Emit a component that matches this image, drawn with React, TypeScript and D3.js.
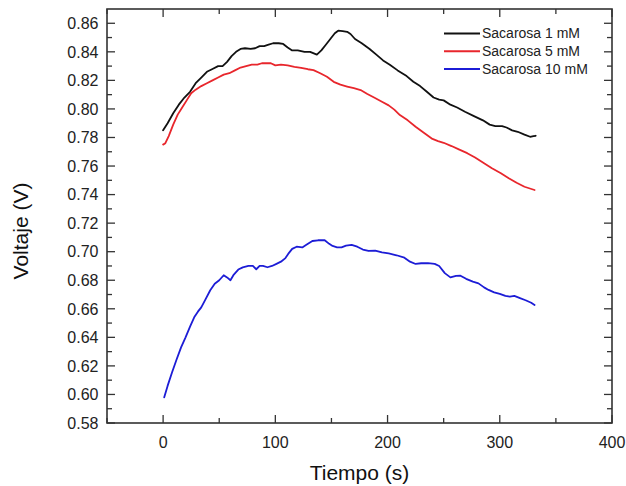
import React from "react";
import * as d3 from "d3";

// Voltage (V) versus time (s) for three sucrose concentrations
const series1mM: [number, number][] = [
  [0, 0.785], [4, 0.79], [9, 0.797], [14, 0.803], [19, 0.808], [24, 0.812], [29, 0.818], [34, 0.822], [39, 0.826], [44, 0.828],
  [49, 0.83], [53, 0.83], [57, 0.833], [61, 0.837], [65, 0.84], [69, 0.842], [73, 0.8425], [78, 0.842], [82, 0.8425], [86, 0.844],
  [90, 0.844], [94, 0.845], [98, 0.846], [103, 0.846], [107, 0.8455], [111, 0.843], [115, 0.841], [120, 0.841], [126, 0.84], [131, 0.84],
  [137, 0.838], [141, 0.841], [145, 0.845], [149, 0.849], [153, 0.853], [156, 0.8548], [160, 0.8545], [164, 0.854], [167, 0.8525], [171, 0.849],
  [177, 0.846], [184, 0.842], [190, 0.838], [196, 0.834], [202, 0.831], [209, 0.827], [217, 0.823], [223, 0.819], [229, 0.816], [235, 0.812],
  [241, 0.808], [246, 0.8065], [250, 0.806], [256, 0.803], [262, 0.801], [269, 0.798], [277, 0.795], [285, 0.792], [291, 0.789], [296, 0.788],
  [302, 0.788], [306, 0.787], [311, 0.785], [316, 0.784], [322, 0.782], [327, 0.7805], [330, 0.781], [332, 0.7812],
];

const series5mM: [number, number][] = [
  [0, 0.775], [2, 0.776], [5, 0.781], [9, 0.789], [13, 0.796], [17, 0.801], [21, 0.806], [25, 0.811], [29, 0.8135], [34, 0.816],
  [39, 0.818], [44, 0.82], [49, 0.822], [54, 0.824], [59, 0.825], [64, 0.827], [69, 0.829], [74, 0.83], [79, 0.831], [84, 0.831],
  [88, 0.832], [93, 0.832], [96, 0.832], [100, 0.8305], [105, 0.831], [111, 0.8305], [117, 0.8295], [123, 0.8288], [129, 0.8278], [134, 0.8272],
  [140, 0.825], [146, 0.8225], [152, 0.819], [158, 0.817], [164, 0.8157], [170, 0.8145], [176, 0.8132], [182, 0.8105], [188, 0.808], [195, 0.805],
  [201, 0.8025], [206, 0.7995], [211, 0.7957], [218, 0.792], [225, 0.7875], [232, 0.7835], [240, 0.779], [245, 0.7775], [250, 0.7763], [257, 0.774],
  [264, 0.7715], [271, 0.769], [278, 0.766], [286, 0.762], [293, 0.7585], [301, 0.755], [308, 0.7515], [315, 0.7483], [322, 0.7455], [331, 0.7432],
];

const series10mM: [number, number][] = [
  [1, 0.598], [4, 0.606], [8, 0.6155], [12, 0.6245], [16, 0.633], [20, 0.64], [24, 0.6475], [28, 0.6545], [31, 0.658], [34, 0.661],
  [38, 0.667], [42, 0.673], [46, 0.6775], [50, 0.68], [54, 0.6835], [57, 0.682], [60, 0.68], [63, 0.684], [67, 0.6875], [71, 0.689],
  [76, 0.69], [80, 0.69], [83, 0.6877], [86, 0.69], [89, 0.69], [93, 0.6891], [97, 0.69], [101, 0.6915], [105, 0.693], [109, 0.6955],
  [112, 0.699], [115, 0.702], [119, 0.7035], [124, 0.703], [128, 0.705], [133, 0.7075], [138, 0.708], [144, 0.708], [148, 0.7055], [151, 0.704],
  [155, 0.703], [159, 0.703], [163, 0.7042], [168, 0.7047], [173, 0.7035], [178, 0.7015], [183, 0.7005], [189, 0.7008], [195, 0.6995], [201, 0.6988],
  [208, 0.6975], [215, 0.6958], [220, 0.693], [225, 0.6914], [230, 0.6919], [236, 0.692], [242, 0.6915], [246, 0.69], [251, 0.685], [256, 0.682],
  [261, 0.683], [265, 0.6832], [270, 0.681], [276, 0.679], [281, 0.6778], [286, 0.675], [290, 0.6732], [295, 0.6715], [300, 0.6705], [305, 0.669],
  [309, 0.6685], [313, 0.669], [318, 0.6675], [323, 0.666], [328, 0.6642], [331, 0.6627],
];

const seriesNames = ["Sacarosa 1 mM", "Sacarosa 5 mM", "Sacarosa 10 mM"];
const seriesColors = ["#111111", "#e8262c", "#1c1cd6"];
const seriesData = [series1mM, series5mM, series10mM];

const xMajorTicks = [0, 100, 200, 300, 400];
const xMinorTicks = [-50, 50, 150, 250, 350];
const yMajorTicks = [0.58, 0.6, 0.62, 0.64, 0.66, 0.68, 0.7, 0.72, 0.74, 0.76, 0.78, 0.8, 0.82, 0.84, 0.86];
const yMinorTicks = [0.59, 0.61, 0.63, 0.65, 0.67, 0.69, 0.71, 0.73, 0.75, 0.77, 0.79, 0.81, 0.83, 0.85];

const xLabel = "Tiempo (s)";
const yLabel = "Voltaje (V)";

const W = 626;
const H = 486;
const left = 107;
const right = 612;
const top = 9;
const bottom = 423;
const FONT = "'Liberation Sans', Arial, sans-serif";
const AXIS = "#333333";

export default function App() {
  const x = d3.scaleLinear().domain([-50, 400]).range([left, right]);
  const y = d3.scaleLinear().domain([0.58, 0.87]).range([bottom, top]);
  const line = d3
    .line<[number, number]>()
    .x((d) => x(d[0]))
    .y((d) => y(d[1]))
    .curve(d3.curveLinear);

  const majorLen = 8;
  const minorLen = 5;

  return (
    <svg
      width={W}
      height={H}
      viewBox={`0 0 ${W} ${H}`}
      style={{ position: "absolute", left: 0, top: 0, background: "#fff" }}
      fontFamily={FONT}
    >
      <rect x={0} y={0} width={W} height={H} fill="#fff" />

      {/* data lines */}
      <g fill="none" strokeWidth={1.8} strokeLinejoin="round" strokeLinecap="round">
        {seriesData.map((s, i) => (
          <path key={i} d={line(s) ?? ""} stroke={seriesColors[i]} />
        ))}
      </g>

      {/* ticks on all four sides, pointing inward */}
      <g stroke={AXIS} strokeWidth={1.3}>
        {xMajorTicks.map((t) => (
          <g key={`xM${t}`}>
            <line x1={x(t)} x2={x(t)} y1={bottom} y2={bottom - majorLen} />
            <line x1={x(t)} x2={x(t)} y1={top} y2={top + majorLen} />
          </g>
        ))}
        {xMinorTicks.map((t) => (
          <g key={`xm${t}`}>
            <line x1={x(t)} x2={x(t)} y1={bottom} y2={bottom - minorLen} />
            <line x1={x(t)} x2={x(t)} y1={top} y2={top + minorLen} />
          </g>
        ))}
        {yMajorTicks.map((t) => (
          <g key={`yM${t}`}>
            <line x1={left} x2={left + majorLen} y1={y(t)} y2={y(t)} />
            <line x1={right} x2={right - majorLen} y1={y(t)} y2={y(t)} />
          </g>
        ))}
        {yMinorTicks.map((t) => (
          <g key={`ym${t}`}>
            <line x1={left} x2={left + minorLen} y1={y(t)} y2={y(t)} />
            <line x1={right} x2={right - minorLen} y1={y(t)} y2={y(t)} />
          </g>
        ))}
      </g>

      {/* frame */}
      <rect
        x={left}
        y={top}
        width={right - left}
        height={bottom - top}
        fill="none"
        stroke={AXIS}
        strokeWidth={1.6}
      />

      {/* tick labels */}
      <g fontSize={16} fill="#222">
        {xMajorTicks.map((t) => (
          <text key={`xl${t}`} x={x(t)} y={447.5} textAnchor="middle">
            {d3.format("d")(t)}
          </text>
        ))}
        {yMajorTicks.map((t) => (
          <text key={`yl${t}`} x={98.5} y={y(t)} dy="0.36em" textAnchor="end">
            {d3.format(".2f")(t)}
          </text>
        ))}
      </g>

      {/* axis titles */}
      <text x={(left + right) / 2} y={480} textAnchor="middle" fontSize={21} fill="#111">
        {xLabel}
      </text>
      <text
        transform={`translate(28, ${(top + bottom) / 2 + 15}) rotate(-90)`}
        textAnchor="middle"
        fontSize={21}
        fill="#111"
      >
        {yLabel}
      </text>

      {/* legend */}
      <g fontSize={14} fill="#222">
        {seriesNames.map((name, i) => (
          <g key={name} transform={`translate(0, ${33.5 + i * 17.8})`}>
            <line x1={444} x2={480} y1={0} y2={0} stroke={seriesColors[i]} strokeWidth={2} />
            <text x={482} y={0} dy="0.35em">
              {name}
            </text>
          </g>
        ))}
      </g>
    </svg>
  );
}
